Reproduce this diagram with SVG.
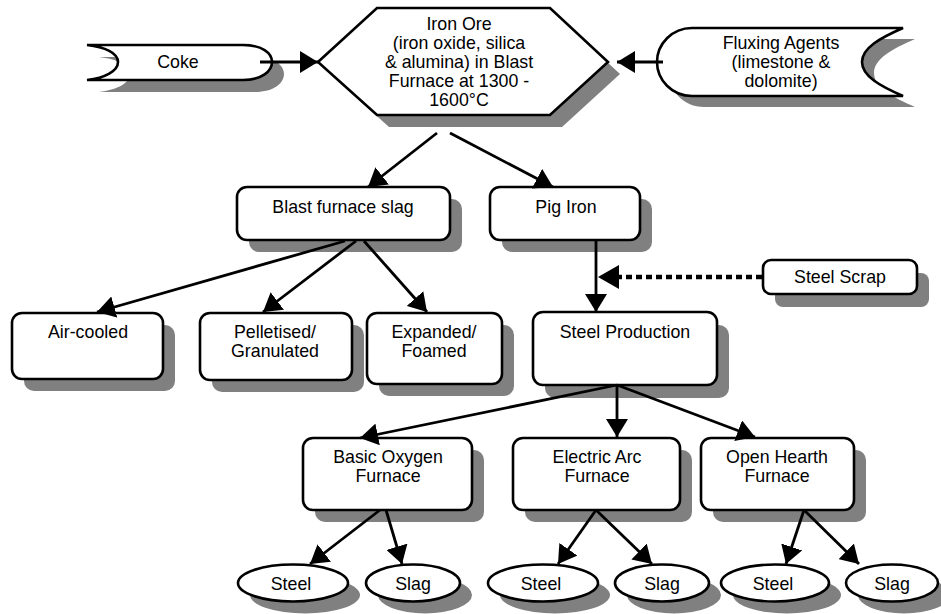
<svg xmlns="http://www.w3.org/2000/svg" width="941" height="614" viewBox="0 0 941 614">
<defs>
<style>
.sh{fill:#808080;stroke:none}
.bx{fill:#fff;stroke:#000;stroke-width:2.6}
.t{font-family:"Liberation Sans",Arial,sans-serif;font-size:17.8px;fill:#000;text-anchor:middle}
.c{fill:none;stroke:#000;stroke-width:2.8}
.d{fill:none;stroke:#000;stroke-width:4.5;stroke-dasharray:6,4}
</style>
<marker id="ah" markerUnits="userSpaceOnUse" markerWidth="20" markerHeight="22" refX="18" refY="11" orient="auto">
<path d="M0,0 L18,11 L0,22 z" fill="#000"/>
</marker>
</defs>
<rect width="941" height="614" fill="#fff"/>

<g id="coke">
<path class="sh" transform="translate(12,12)" d="M87,45 L243,45 C262,45 272,53 272,62 C272,71 262,80 243,80 L87,80 C105,78 118,71 118,62 C118,53 105,47 87,45 Z"/>
<path class="bx" d="M87,45 L243,45 C262,45 272,53 272,62 C272,71 262,80 243,80 L87,80 C105,78 118,71 118,62 C118,53 105,47 87,45 Z"/>
<text class="t" x="178" y="68">Coke</text>
</g>

<g id="ironore">
<polygon class="sh" transform="translate(12,12)" points="318,62 377,8 550,8 608,62 550,115 377,115"/>
<polygon class="bx" points="318,62 377,8 550,8 608,62 550,115 377,115"/>
<text class="t" x="459" y="30">Iron Ore</text>
<text class="t" x="459" y="49">(iron oxide, silica</text>
<text class="t" x="459" y="68">&amp; alumina) in Blast</text>
<text class="t" x="459" y="87">Furnace at 1300 -</text>
<text class="t" x="459" y="106">1600°C</text>
</g>

<g id="flux">
<path class="sh" transform="translate(12,11)" d="M692,28 L903,28 C880,38 862,48 862,62 C862,76 880,86 903,96 L692,96 C672,96 657,80 657,62 C657,44 672,28 692,28 Z"/>
<path class="bx" d="M692,28 L903,28 C880,38 862,48 862,62 C862,76 880,86 903,96 L692,96 C672,96 657,80 657,62 C657,44 672,28 692,28 Z"/>
<text class="t" x="781" y="49">Fluxing Agents</text>
<text class="t" x="781" y="68">(limestone &amp;</text>
<text class="t" x="781" y="87">dolomite)</text>
</g>

<g id="bfslag">
<rect class="sh" x="249" y="199" width="213" height="53" rx="10"/>
<rect class="bx" x="237" y="187" width="213" height="53" rx="10"/>
<text class="t" x="343" y="213">Blast furnace slag</text>
</g>

<g id="pigiron">
<rect class="sh" x="502" y="199" width="150" height="53" rx="10"/>
<rect class="bx" x="490" y="187" width="150" height="53" rx="10"/>
<text class="t" x="566" y="213">Pig Iron</text>
</g>

<g id="steelscrap">
<rect class="sh" x="775" y="273" width="154" height="34" rx="8"/>
<rect class="bx" x="763" y="260" width="154" height="34" rx="8"/>
<text class="t" x="840" y="283">Steel Scrap</text>
</g>

<g id="aircooled">
<rect class="sh" x="24" y="325" width="151" height="66" rx="10"/>
<rect class="bx" x="12" y="313" width="151" height="66" rx="10"/>
<text class="t" x="88" y="338">Air-cooled</text>
</g>

<g id="pelletised">
<rect class="sh" x="212" y="325" width="152" height="67" rx="10"/>
<rect class="bx" x="200" y="313" width="152" height="67" rx="10"/>
<text class="t" x="275" y="338">Pelletised/</text>
<text class="t" x="275" y="357">Granulated</text>
</g>

<g id="expanded">
<rect class="sh" x="379" y="325" width="135" height="71" rx="10"/>
<rect class="bx" x="367" y="313" width="135" height="71" rx="10"/>
<text class="t" x="434" y="338">Expanded/</text>
<text class="t" x="434" y="357">Foamed</text>
</g>

<g id="steelprod">
<rect class="sh" x="545" y="325" width="184" height="73" rx="10"/>
<rect class="bx" x="533" y="312" width="184" height="73" rx="10"/>
<text class="t" x="625" y="338">Steel Production</text>
</g>

<g id="bof">
<rect class="sh" x="315" y="450" width="169" height="72" rx="10"/>
<rect class="bx" x="303" y="438" width="169" height="72" rx="10"/>
<text class="t" x="388" y="463">Basic Oxygen</text>
<text class="t" x="388" y="482">Furnace</text>
</g>

<g id="eaf">
<rect class="sh" x="525" y="450" width="167" height="72" rx="10"/>
<rect class="bx" x="513" y="438" width="167" height="72" rx="10"/>
<text class="t" x="597" y="463">Electric Arc</text>
<text class="t" x="597" y="482">Furnace</text>
</g>

<g id="ohf">
<rect class="sh" x="713" y="450" width="153" height="72" rx="10"/>
<rect class="bx" x="701" y="438" width="153" height="72" rx="10"/>
<text class="t" x="777" y="463">Open Hearth</text>
<text class="t" x="777" y="482">Furnace</text>
</g>

<g id="steel1">
<ellipse class="sh" cx="305" cy="595" rx="55" ry="18.5"/>
<ellipse class="bx" cx="293" cy="583" rx="55" ry="18.5"/>
<text class="t" x="291" y="590">Steel</text>
</g>
<g id="slag1">
<ellipse class="sh" cx="425" cy="595" rx="47" ry="18.5"/>
<ellipse class="bx" cx="413" cy="583" rx="47" ry="18.5"/>
<text class="t" x="413" y="590">Slag</text>
</g>
<g id="steel2">
<ellipse class="sh" cx="555" cy="595" rx="55" ry="18.5"/>
<ellipse class="bx" cx="543" cy="583" rx="55" ry="18.5"/>
<text class="t" x="541" y="590">Steel</text>
</g>
<g id="slag2">
<ellipse class="sh" cx="674" cy="595" rx="47" ry="18.5"/>
<ellipse class="bx" cx="662" cy="583" rx="47" ry="18.5"/>
<text class="t" x="662" y="590">Slag</text>
</g>
<g id="steel3">
<ellipse class="sh" cx="787" cy="595" rx="54" ry="18.5"/>
<ellipse class="bx" cx="775" cy="583" rx="54" ry="18.5"/>
<text class="t" x="773" y="590">Steel</text>
</g>
<g id="slag3">
<ellipse class="sh" cx="904" cy="595" rx="46" ry="18.5"/>
<ellipse class="bx" cx="892" cy="583" rx="46" ry="18.5"/>
<text class="t" x="892" y="590">Slag</text>
</g>

<g id="connectors">
<path class="c" d="M260,62 L318,62" marker-end="url(#ah)"/>
<path class="c" d="M663,62 L617,62" marker-end="url(#ah)"/>
<path class="c" d="M437,133 L368,187" marker-end="url(#ah)"/>
<path class="c" d="M450,133 L553,187" marker-end="url(#ah)"/>
<path class="c" d="M345,241 L97,312" marker-end="url(#ah)"/>
<path class="c" d="M356,241 L263,312" marker-end="url(#ah)"/>
<path class="c" d="M364,241 L427,312" marker-end="url(#ah)"/>
<path class="c" d="M596,240 L596,312" marker-end="url(#ah)"/>
<path class="d" d="M762,277 L616,277"/>
<path d="M598,277 L619,265 L619,289 z" fill="#000"/>
<path class="c" d="M617,385 L360,438" marker-end="url(#ah)"/>
<path class="c" d="M617,385 L617,437" marker-end="url(#ah)"/>
<path class="c" d="M617,385 L755,437" marker-end="url(#ah)"/>
<path class="c" d="M380,510 L310,564" marker-end="url(#ah)"/>
<path class="c" d="M386,510 L402,564" marker-end="url(#ah)"/>
<path class="c" d="M596,510 L558,564" marker-end="url(#ah)"/>
<path class="c" d="M596,510 L652,564" marker-end="url(#ah)"/>
<path class="c" d="M804,510 L786,564" marker-end="url(#ah)"/>
<path class="c" d="M804,510 L859,564" marker-end="url(#ah)"/>
</g>
</svg>
